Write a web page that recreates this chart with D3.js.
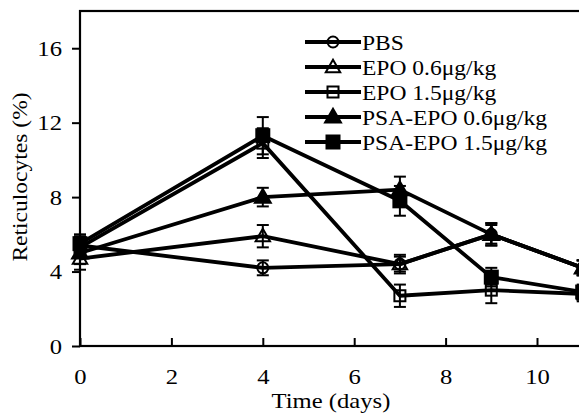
<!DOCTYPE html>
<html>
<head>
<meta charset="utf-8">
<script src="https://cdn.jsdelivr.net/npm/d3@7"></script>
<style>
  body { margin: 0; background: #fff; }
  svg { display: block; font-family: "Liberation Serif", "Times New Roman", serif; }
</style>
</head>
<body>
<script>
// data
const days = [0, 4, 7, 9, 11];
const seriesNames = ["PBS", "EPO 0.6\u03bcg/kg", "EPO 1.5\u03bcg/kg", "PSA-EPO 0.6\u03bcg/kg", "PSA-EPO 1.5\u03bcg/kg"];
const pbs    = [5.4, 4.2, 4.4, 6.0, 4.2];
const epo06  = [4.7, 5.9, 4.4, 6.0, 4.2];
const epo15  = [5.3, 10.9, 2.7, 3.0, 2.8];
const psa06  = [5.0, 8.0, 8.4, 6.0, 4.2];
const psa15  = [5.5, 11.3, 7.8, 3.7, 2.9];
const pbsErr   = [0.5, 0.4, 0.4, 0.5, 0.4];
const epo06Err = [0.6, 0.6, 0.5, 0.6, 0.4];
const epo15Err = [0.5, 0.8, 0.6, 0.7, 0.4];
const psa06Err = [0.6, 0.5, 0.7, 0.6, 0.4];
const psa15Err = [0.5, 1.0, 0.8, 0.5, 0.4];
const xTicks = [0, 2, 4, 6, 8, 10];
const yTicks = [0, 4, 8, 12, 16];

const width = 579, height = 413;
const margin = { left: 80, top: 11, bottom: 67 };
const stretch = 1.12; // the original type is a bit wider than Liberation Serif
const legendStretch = 1.07;

const series = [
  { name: seriesNames[0], values: pbs,   err: pbsErr,   shape: "circle",   filled: false },
  { name: seriesNames[1], values: epo06, err: epo06Err, shape: "triangle", filled: false },
  { name: seriesNames[2], values: epo15, err: epo15Err, shape: "square",   filled: false },
  { name: seriesNames[3], values: psa06, err: psa06Err, shape: "triangle", filled: true },
  { name: seriesNames[4], values: psa15, err: psa15Err, shape: "square",   filled: true }
];

const svg = d3.select("body").append("svg")
  .attr("width", width)
  .attr("height", height);

const x = d3.scaleLinear().domain([0, 12]).range([margin.left, margin.left + 12 * 45.7]);
const y = d3.scaleLinear().domain([0, 18]).range([height - margin.bottom, margin.top]);

// frame
svg.append("rect")
  .attr("x", x(0)).attr("y", y(18))
  .attr("width", x(12) - x(0)).attr("height", y(0) - y(18))
  .style("fill", "none").style("stroke", "#000").style("stroke-width", 2.2);

// x axis, ticks pointing inward
const xAxis = svg.append("g")
  .attr("transform", "translate(0," + y(0) + ")")
  .call(d3.axisBottom(x).tickValues(xTicks).tickSizeInner(-8).tickSizeOuter(0).tickPadding(22));
xAxis.select(".domain").remove();
xAxis.selectAll("line").style("stroke-width", 2);
xAxis.selectAll("text")
  .style("font-size", "22px").style("font-family", "Liberation Serif").attr("fill", "#000")
  .attr("transform", "scale(" + stretch + ",1)");

// y axis, ticks outward
const yAxis = svg.append("g")
  .attr("transform", "translate(" + x(0) + ",0)")
  .call(d3.axisLeft(y).tickValues(yTicks).tickSizeInner(8).tickSizeOuter(0).tickPadding(10));
yAxis.select(".domain").remove();
yAxis.selectAll("line").style("stroke-width", 2);
yAxis.selectAll("text")
  .style("font-size", "22px").style("font-family", "Liberation Serif").attr("fill", "#000")
  .attr("x", -18 / stretch)
  .attr("transform", "scale(" + stretch + ",1)");

svg.append("text")
  .attr("transform", "translate(331,408) scale(" + stretch + ",1)")
  .attr("text-anchor", "middle")
  .style("font-size", "22px")
  .text("Time (days)");

svg.append("text")
  .attr("transform", "translate(27,177) rotate(-90) scale(1.07,1)")
  .attr("text-anchor", "middle")
  .style("font-size", "22px")
  .text("Reticulocytes (%)");

const line = d3.line()
  .x((d, i) => x(days[i]))
  .y(d => y(d));

function drawMarker(g, s, cx, cy) {
  const fill = s.filled ? "#000" : "none";
  if (s.shape === "circle") {
    g.append("circle").attr("cx", cx).attr("cy", cy).attr("r", 5.5)
      .style("fill", fill).style("stroke", "#000").style("stroke-width", 2);
  } else if (s.shape === "square") {
    const a = s.filled ? 13 : 11;
    g.append("rect").attr("x", cx - a / 2).attr("y", cy - a / 2).attr("width", a).attr("height", a)
      .style("fill", fill).style("stroke", "#000").style("stroke-width", 2);
  } else {
    const sym = d3.symbol().type(d3.symbolTriangle).size(s.filled ? 110 : 90);
    g.append("path").attr("d", sym()).attr("transform", "translate(" + cx + "," + (cy + 1) + ")")
      .style("fill", fill).style("stroke", "#000").style("stroke-width", 2);
  }
}

const plot = svg.append("g");
series.forEach(s => {
  const g = plot.append("g");
  // error bars
  s.values.forEach((v, i) => {
    const cx = x(days[i]);
    const top = y(v + s.err[i]), bot = y(v - s.err[i]);
    g.append("line").attr("x1", cx).attr("x2", cx).attr("y1", top).attr("y2", bot)
      .style("stroke", "#000").style("stroke-width", 2);
    [top, bot].forEach(yy => g.append("line")
      .attr("x1", cx - 6).attr("x2", cx + 6).attr("y1", yy).attr("y2", yy)
      .style("stroke", "#000").style("stroke-width", 2));
  });
  g.append("path").attr("d", line(s.values))
    .style("fill", "none").style("stroke", "#000").style("stroke-width", 3.8)
    .style("stroke-linejoin", "round");
  s.values.forEach((v, i) => drawMarker(g, s, x(days[i]), y(v)));
});

// legend
const legend = svg.append("g");
series.forEach((s, i) => {
  const ly = 42 + i * 25;
  const g = legend.append("g");
  g.append("line").attr("x1", 305).attr("x2", 361).attr("y1", ly).attr("y2", ly)
    .style("stroke", "#000").style("stroke-width", 3.8);
  drawMarker(g, s, 333, ly);
  g.append("text")
    .attr("transform", "translate(362," + (ly + 7.5) + ") scale(" + legendStretch + ",1)")
    .style("font-size", "22px")
    .text(s.name);
});
</script>
</body>
</html>
